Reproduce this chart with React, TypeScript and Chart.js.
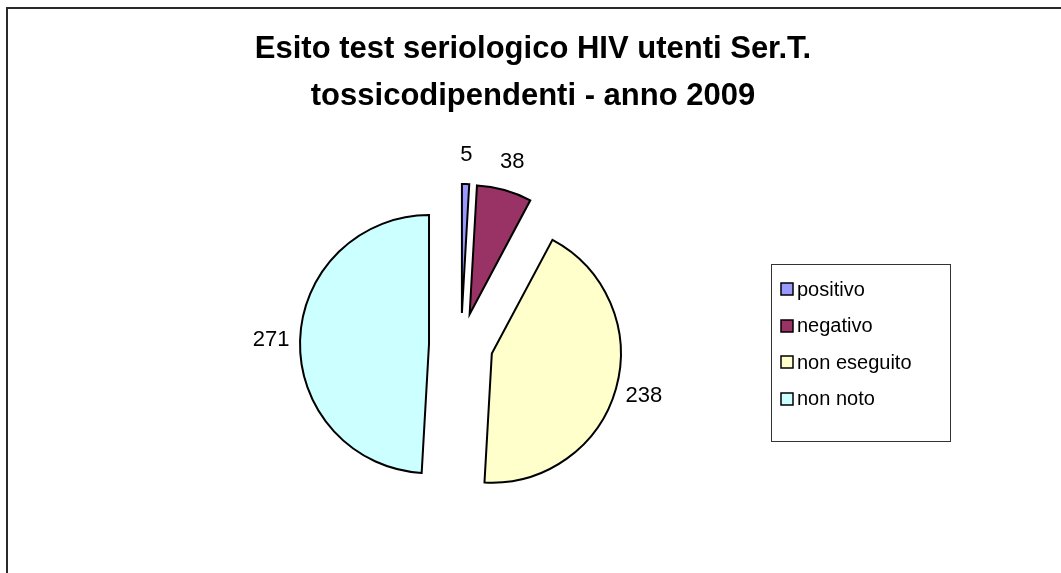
import React, { useEffect, useRef } from "react";
import { Chart, registerables } from "chart.js";

Chart.register(...registerables);

const categories = ["positivo", "negativo", "non eseguito", "non noto"];
const values = [5, 38, 238, 271];
const colors = ["#9999FF", "#993366", "#FFFFCC", "#CCFFFF"];
const titleLines = ["Esito test seriologico HIV utenti Ser.T.", "tossicodipendenti - anno 2009"];

const EXPLODE = 32;
const FONT = '"Liberation Sans", Arial, sans-serif';

export default function App() {
  const ref = useRef<HTMLCanvasElement>(null);

  useEffect(() => {
    const canvas = ref.current!;

    const framePlugin = {
      id: "frame",
      beforeDraw(chart: any) {
        const ctx = chart.ctx;
        ctx.save();
        ctx.fillStyle = "#ffffff";
        ctx.fillRect(0, 0, chart.width, chart.height);
        ctx.strokeStyle = "#2a2a2a";
        ctx.lineWidth = 2;
        ctx.strokeRect(7, 8, chart.width + 50, chart.height + 50);
        ctx.fillStyle = "#000";
        ctx.font = `bold 31px ${FONT}`;
        ctx.textAlign = "center";
        ctx.textBaseline = "middle";
        ctx.fillText(titleLines[0], 533, 49);
        ctx.fillText(titleLines[1], 533, 96);
        ctx.restore();
      },
    };

    const explodePlugin = {
      id: "explode",
      beforeDatasetDraw(chart: any, args: any) {
        const ctx = chart.ctx;
        args.meta.data.forEach((arc: any) => {
          const mid = (arc.startAngle + arc.endAngle) / 2;
          ctx.save();
          ctx.translate(Math.cos(mid) * EXPLODE, Math.sin(mid) * EXPLODE);
          arc.draw(ctx);
          ctx.restore();
        });
        return false;
      },
      afterDatasetsDraw(chart: any) {
        const ctx = chart.ctx;
        const meta = chart.getDatasetMeta(0);
        ctx.save();
        ctx.font = `22px ${FONT}`;
        ctx.fillStyle = "#000";
        ctx.textAlign = "center";
        ctx.textBaseline = "middle";
        meta.data.forEach((arc: any, i: number) => {
          const mid = (arc.startAngle + arc.endAngle) / 2;
          const c = Math.cos(mid);
          const s = Math.sin(mid);
          const r = arc.outerRadius + EXPLODE + 29;
          ctx.fillText(String(values[i]), arc.x + c * r, arc.y + s * r);
        });
        ctx.restore();
      },
    };

    const legendPlugin = {
      id: "customLegend",
      afterDraw(chart: any) {
        const ctx = chart.ctx;
        ctx.save();
        ctx.strokeStyle = "#333";
        ctx.lineWidth = 1;
        ctx.strokeRect(771.5, 264.5, 179, 177);
        ctx.font = `20px ${FONT}`;
        ctx.textBaseline = "middle";
        ctx.textAlign = "left";
        categories.forEach((lab, i) => {
          const cy = 289 + i * 36.5;
          ctx.fillStyle = colors[i];
          ctx.fillRect(781, Math.round(cy - 6), 12, 12);
          ctx.strokeStyle = "#000";
          ctx.lineWidth = 1.5;
          ctx.strokeRect(781, Math.round(cy - 6), 12, 12);
          ctx.fillStyle = "#000";
          ctx.fillText(lab, 797, cy + 1);
        });
        ctx.restore();
      },
    };

    const chart = new Chart(canvas, {
      type: "pie",
      data: {
        labels: categories,
        datasets: [
          {
            data: values,
            backgroundColor: colors,
            borderColor: "#000",
            borderWidth: 2,
            borderJoinStyle: "miter",
            hoverOffset: 0,
            radius: 129,
          } as any,
        ],
      },
      options: {
        responsive: false,
        animation: false,
        events: [],
        radius: 129,
        layout: { padding: { left: 331, right: 470, top: 215, bottom: 98 } },
        plugins: {
          legend: { display: false },
          title: { display: false },
          tooltip: { enabled: false },
        },
      } as any,
      plugins: [framePlugin, explodePlugin, legendPlugin],
    });

    return () => chart.destroy();
  }, []);

  return (
    <div style={{ position: "absolute", left: 0, top: 0, width: 1061, height: 573, overflow: "hidden", background: "#fff" }}>
      <canvas ref={ref} width={1061} height={573} style={{ display: "block" }} />
    </div>
  );
}
